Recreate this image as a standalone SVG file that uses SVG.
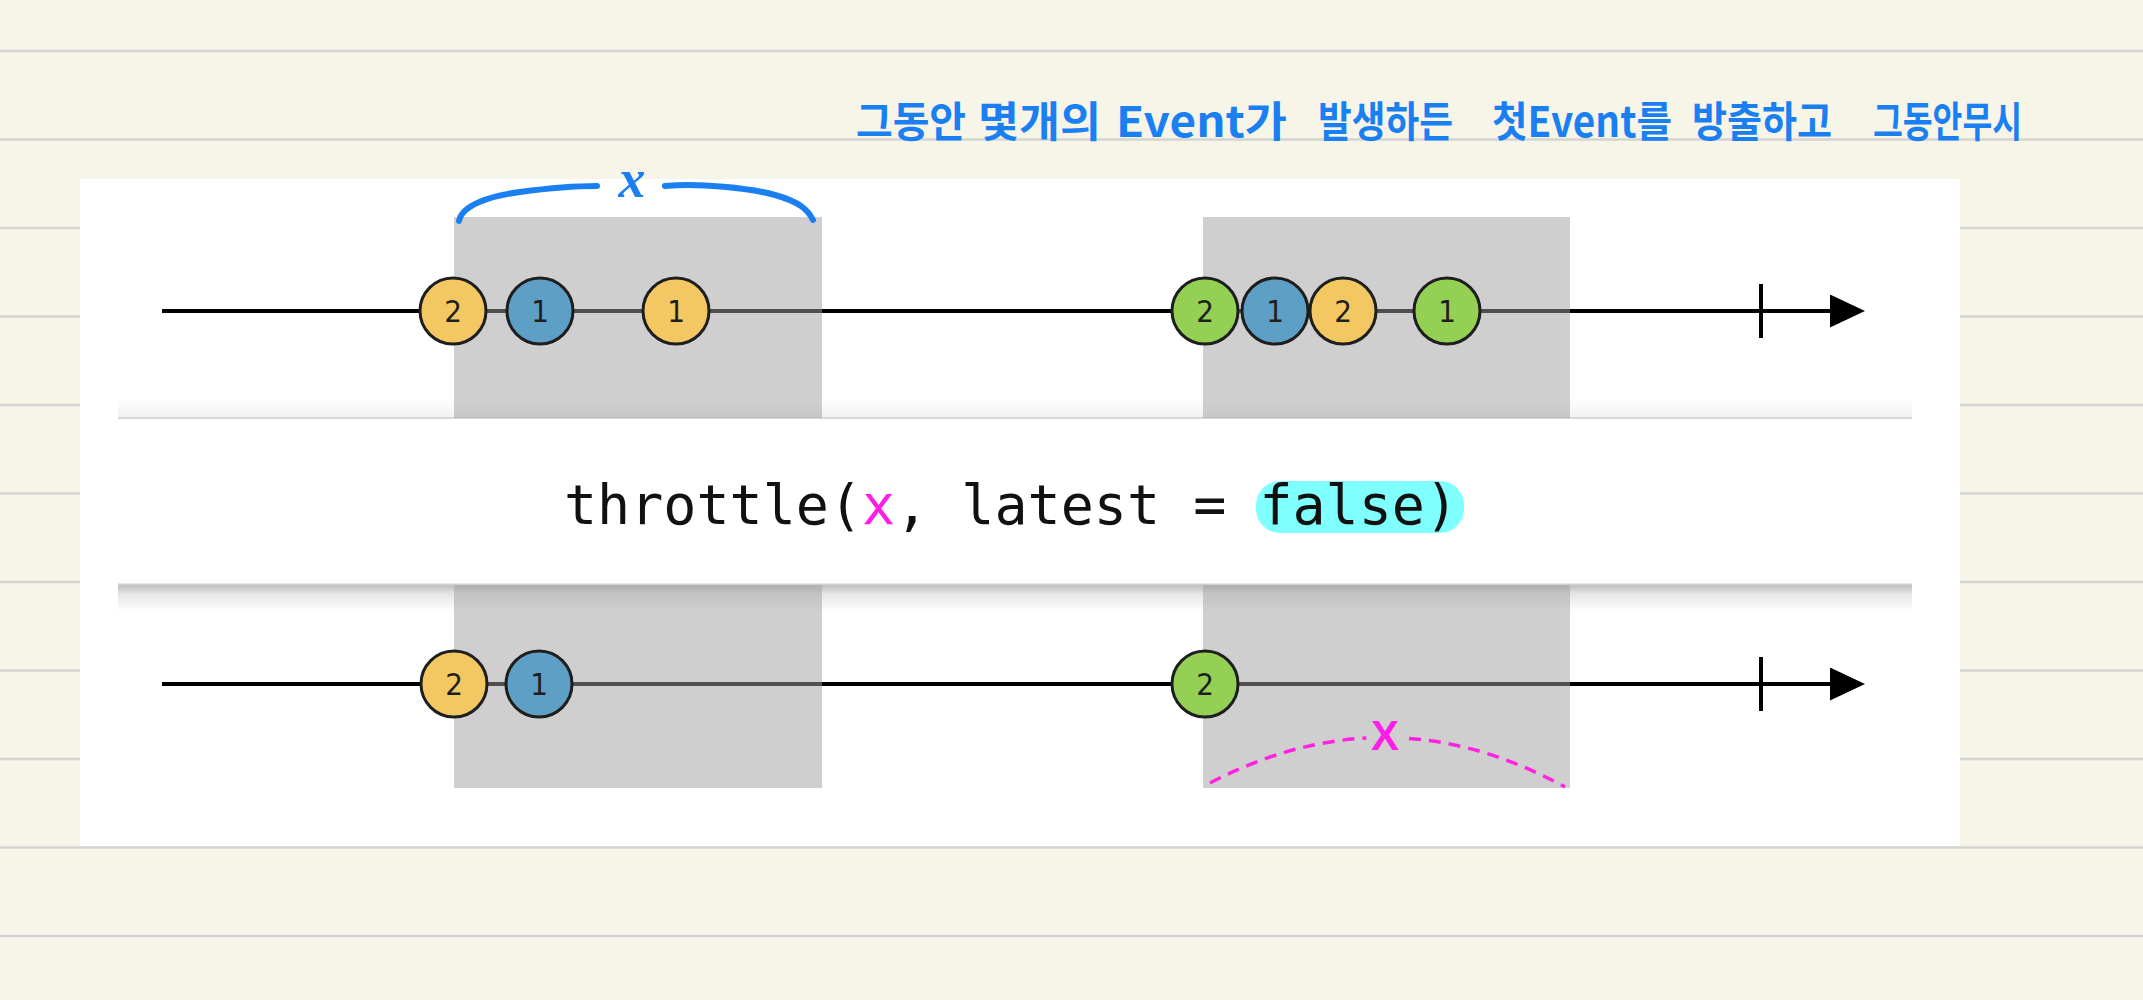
<svg xmlns="http://www.w3.org/2000/svg" width="2143" height="1000" viewBox="0 0 2143 1000">
  <defs>
    <style>
      .rule { stroke: #d4d4d2; stroke-width: 2.5; }
      .axis { stroke: #000; stroke-width: 4; fill: none; }
      .tick { stroke: #000; stroke-width: 4; }
      .win { fill: rgb(160,160,160); fill-opacity: 0.5; }
      .ev { stroke: #1e1e1e; stroke-width: 3; }
      .yellow { fill: #f3c862; }
      .blue { fill: #5e9fc6; }
      .green { fill: #93d054; }
      .num { font-family: "DejaVu Sans Condensed", "DejaVu Sans", sans-serif; font-size: 31px; fill: #1e1e1e; text-anchor: middle; }
      .code { font-family: "DejaVu Sans Mono", "Liberation Mono", monospace; font-size: 55px; fill: #111; }
      .hand { font-family: "Noto Sans CJK KR", "Noto Sans", sans-serif; font-size: 42px; font-weight: 700; fill: #1a80f2; }
      .brace { stroke: #1a80f2; stroke-width: 6; fill: none; stroke-linecap: round; }
      .dash { stroke: #ff22e0; stroke-width: 3.5; fill: none; stroke-dasharray: 12 8; }
    </style>
    <marker id="arrow" viewBox="0 0 35 33" markerWidth="35" markerHeight="33" refX="2" refY="16.5" orient="auto" markerUnits="userSpaceOnUse">
      <path d="M0,0 L35,16.5 L0,33 Z" fill="#000"/>
    </marker>
    <linearGradient id="shTop" x1="0" y1="0" x2="0" y2="1">
      <stop offset="0" stop-color="#000" stop-opacity="0"/>
      <stop offset="1" stop-color="#000" stop-opacity="0.06"/>
    </linearGradient>
    <linearGradient id="shBot" x1="0" y1="0" x2="0" y2="1">
      <stop offset="0" stop-color="#000" stop-opacity="0.28"/>
      <stop offset="0.35" stop-color="#000" stop-opacity="0.1"/>
      <stop offset="1" stop-color="#000" stop-opacity="0"/>
    </linearGradient>
  </defs>

  <!-- notebook paper -->
  <rect x="0" y="0" width="2143" height="1000" fill="#f7f5e8"/>
  <g id="rules">
    <line class="rule" x1="0" y1="51" x2="2143" y2="51"/>
    <line class="rule" x1="0" y1="139.5" x2="2143" y2="139.5"/>
    <line class="rule" x1="0" y1="228" x2="2143" y2="228"/>
    <line class="rule" x1="0" y1="316.5" x2="2143" y2="316.5"/>
    <line class="rule" x1="0" y1="405" x2="2143" y2="405"/>
    <line class="rule" x1="0" y1="493.5" x2="2143" y2="493.5"/>
    <line class="rule" x1="0" y1="582" x2="2143" y2="582"/>
    <line class="rule" x1="0" y1="670.5" x2="2143" y2="670.5"/>
    <line class="rule" x1="0" y1="759" x2="2143" y2="759"/>
    <line class="rule" x1="0" y1="847.5" x2="2143" y2="847.5"/>
    <line class="rule" x1="0" y1="936" x2="2143" y2="936"/>
  </g>

  <!-- pasted diagram panel -->
  <rect id="panel" x="80" y="179" width="1880" height="667" fill="#ffffff"/>

  <!-- operator band -->
  <g id="operator">
    <rect x="118" y="399" width="1794" height="19" fill="url(#shTop)"/>
    <rect x="118" y="584" width="1794" height="28" fill="url(#shBot)"/>
    <rect x="118" y="418" width="1794" height="166" fill="#ffffff"/>
    <line x1="118" y1="418" x2="1912" y2="418" stroke="#d8d8d8" stroke-width="2"/>
    <line x1="118" y1="584.5" x2="1912" y2="584.5" stroke="#cfcfcf" stroke-width="2"/>
    <rect x="1256" y="481" width="208" height="52" rx="24" fill="#80ffff"/>
    <text class="code" x="564" y="524">throttle(<tspan fill="#ff1ee8">x</tspan>, latest = false)</text>
  </g>

  <!-- timelines -->
  <g id="connectors">
    <line class="axis" x1="162" y1="311" x2="1832" y2="311" marker-end="url(#arrow)"/>
    <line class="tick" x1="1761" y1="284" x2="1761" y2="338"/>
    <line class="axis" x1="162" y1="684" x2="1832" y2="684" marker-end="url(#arrow)"/>
    <line class="tick" x1="1761" y1="657" x2="1761" y2="711"/>
  </g>

  <!-- throttle windows -->
  <g id="windows">
    <rect class="win" x="454" y="217" width="368" height="201"/>
    <rect class="win" x="1203" y="217" width="367" height="201"/>
    <rect class="win" x="454" y="585" width="368" height="203"/>
    <rect class="win" x="1203" y="585" width="367" height="203"/>
  </g>

  <!-- input events -->
  <g id="in-y2"><circle class="ev yellow" cx="453" cy="311" r="33"/><text class="num" x="453" y="322">2</text></g>
  <g id="in-b1"><circle class="ev blue" cx="540" cy="311" r="33"/><text class="num" x="540" y="322">1</text></g>
  <g id="in-y1"><circle class="ev yellow" cx="676" cy="311" r="33"/><text class="num" x="676" y="322">1</text></g>
  <g id="in-g2"><circle class="ev green" cx="1205" cy="311" r="33"/><text class="num" x="1205" y="322">2</text></g>
  <g id="in-b1b"><circle class="ev blue" cx="1275" cy="311" r="33"/><text class="num" x="1275" y="322">1</text></g>
  <g id="in-y2b"><circle class="ev yellow" cx="1343" cy="311" r="33"/><text class="num" x="1343" y="322">2</text></g>
  <g id="in-g1"><circle class="ev green" cx="1447" cy="311" r="33"/><text class="num" x="1447" y="322">1</text></g>

  <!-- output events -->
  <g id="out-y2"><circle class="ev yellow" cx="454" cy="684" r="33"/><text class="num" x="454" y="695">2</text></g>
  <g id="out-b1"><circle class="ev blue" cx="539" cy="684" r="33"/><text class="num" x="539" y="695">1</text></g>
  <g id="out-g2"><circle class="ev green" cx="1205" cy="684" r="33"/><text class="num" x="1205" y="695">2</text></g>

  <!-- magenta x span -->
  <g id="span-x">
    <path class="dash" d="M1210,783 Q1288.3,742.1 1366.4,738"/>
    <path class="dash" d="M1409,738.4 Q1487.1,744.3 1565,787"/>
    <text x="1385" y="750" text-anchor="middle" font-family="Liberation Sans, Arial, sans-serif" font-weight="700" font-size="42" fill="#ff1ee8">X</text>
  </g>

  <!-- handwritten brace -->
  <g id="brace-x">
    <path class="brace" d="M459,221 C462,205 490,196 520,192 S575,186 597,186"/>
    <path class="brace" d="M665,186 C700,183 750,188 775,195 S808,210 813,220"/>
    <text x="632" y="197" text-anchor="middle" font-family="Liberation Serif, serif" font-style="italic" font-weight="700" font-size="54" fill="#1a80f2">x</text>
  </g>

  <!-- handwritten note -->
  <g id="note">
    <text class="hand" x="856" y="137" textLength="110" lengthAdjust="spacingAndGlyphs">그동안</text>
    <text class="hand" x="978" y="137" textLength="123" lengthAdjust="spacingAndGlyphs">몇개의</text>
    <text class="hand" x="1116" y="137" textLength="171" lengthAdjust="spacingAndGlyphs">Event가</text>
    <text class="hand" x="1318" y="137" textLength="135" lengthAdjust="spacingAndGlyphs">발생하든</text>
    <text class="hand" x="1492" y="137" textLength="180" lengthAdjust="spacingAndGlyphs">첫Event를</text>
    <text class="hand" x="1692" y="137" textLength="140" lengthAdjust="spacingAndGlyphs">방출하고</text>
    <text class="hand" x="1873" y="137" textLength="149" lengthAdjust="spacingAndGlyphs">그동안무시</text>
  </g>
</svg>
